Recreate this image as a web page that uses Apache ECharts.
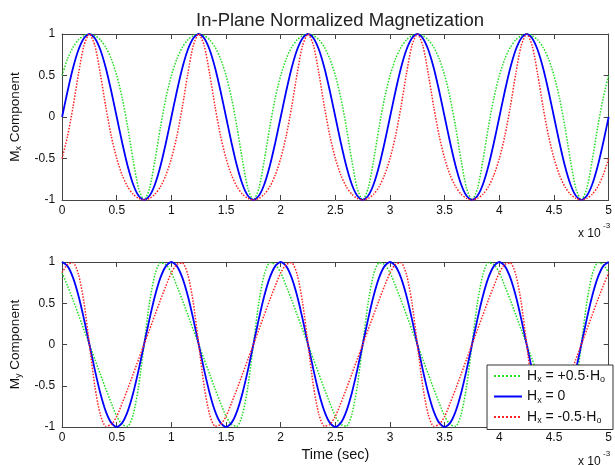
<!DOCTYPE html>
<html lang="en">
<head>
<meta charset="UTF-8">
<title>In-Plane Normalized Magnetization</title>
<style>
    html, body { margin: 0; padding: 0; background: #fff; }
    #container { width: 615px; height: 465px; }
</style>
</head>
<body>
<div id="container"></div>
<script src="https://cdn.jsdelivr.net/npm/echarts@6/dist/echarts.min.js"></script>
<script>
// time, in units of 1e-3 s
var timeMs = [
    0, 0.05, 0.1, 0.15, 0.2, 0.25, 0.3, 0.35, 0.4, 0.45, 0.5, 0.55, 0.6, 0.65, 0.7, 0.75, 0.8, 0.85, 0.9, 0.95,
    1, 1.05, 1.1, 1.15, 1.2, 1.25, 1.3, 1.35, 1.4, 1.45, 1.5, 1.55, 1.6, 1.65, 1.7, 1.75, 1.8, 1.85, 1.9, 1.95,
    2, 2.05, 2.1, 2.15, 2.2, 2.25, 2.3, 2.35, 2.4, 2.45, 2.5, 2.55, 2.6, 2.65, 2.7, 2.75, 2.8, 2.85, 2.9, 2.95,
    3, 3.05, 3.1, 3.15, 3.2, 3.25, 3.3, 3.35, 3.4, 3.45, 3.5, 3.55, 3.6, 3.65, 3.7, 3.75, 3.8, 3.85, 3.9, 3.95,
    4, 4.05, 4.1, 4.15, 4.2, 4.25, 4.3, 4.35, 4.4, 4.45, 4.5, 4.55, 4.6, 4.65, 4.7, 4.75, 4.8, 4.85, 4.9, 4.95,
    5
];

var seriesNames = ['Hx = +0.5·Ho', 'Hx = 0', 'Hx = -0.5·Ho'];

// Mx component
var mxPlus = [
    0.5, 0.7, 0.84, 0.93, 0.98, 1, 0.98, 0.93, 0.84, 0.7, 0.5, 0.23, -0.12, -0.52, -0.86, -1, -0.86, -0.52, -0.12, 0.23,
    0.5, 0.7, 0.84, 0.93, 0.98, 1, 0.98, 0.93, 0.84, 0.7, 0.5, 0.23, -0.12, -0.52, -0.86, -1, -0.86, -0.52, -0.12, 0.23,
    0.5, 0.7, 0.84, 0.93, 0.98, 1, 0.98, 0.93, 0.84, 0.7, 0.5, 0.23, -0.12, -0.52, -0.86, -1, -0.86, -0.52, -0.12, 0.23,
    0.5, 0.7, 0.84, 0.93, 0.98, 1, 0.98, 0.93, 0.84, 0.7, 0.5, 0.23, -0.12, -0.52, -0.86, -1, -0.86, -0.52, -0.12, 0.23,
    0.5, 0.7, 0.84, 0.93, 0.98, 1, 0.98, 0.93, 0.84, 0.7, 0.5, 0.23, -0.12, -0.52, -0.86, -1, -0.86, -0.52, -0.12, 0.23,
    0.5
];
var mxZero = [
    0, 0.31, 0.59, 0.81, 0.95, 1, 0.95, 0.81, 0.59, 0.31, 0, -0.31, -0.59, -0.81, -0.95, -1, -0.95, -0.81, -0.59, -0.31,
    0, 0.31, 0.59, 0.81, 0.95, 1, 0.95, 0.81, 0.59, 0.31, 0, -0.31, -0.59, -0.81, -0.95, -1, -0.95, -0.81, -0.59, -0.31,
    0, 0.31, 0.59, 0.81, 0.95, 1, 0.95, 0.81, 0.59, 0.31, 0, -0.31, -0.59, -0.81, -0.95, -1, -0.95, -0.81, -0.59, -0.31,
    0, 0.31, 0.59, 0.81, 0.95, 1, 0.95, 0.81, 0.59, 0.31, 0, -0.31, -0.59, -0.81, -0.95, -1, -0.95, -0.81, -0.59, -0.31,
    0, 0.31, 0.59, 0.81, 0.95, 1, 0.95, 0.81, 0.59, 0.31, 0, -0.31, -0.59, -0.81, -0.95, -1, -0.95, -0.81, -0.59, -0.31,
    0
];
var mxMinus = [
    -0.5, -0.23, 0.12, 0.52, 0.86, 1, 0.86, 0.52, 0.12, -0.23, -0.5, -0.7, -0.84, -0.93, -0.98, -1, -0.98, -0.93, -0.84, -0.7,
    -0.5, -0.23, 0.12, 0.52, 0.86, 1, 0.86, 0.52, 0.12, -0.23, -0.5, -0.7, -0.84, -0.93, -0.98, -1, -0.98, -0.93, -0.84, -0.7,
    -0.5, -0.23, 0.12, 0.52, 0.86, 1, 0.86, 0.52, 0.12, -0.23, -0.5, -0.7, -0.84, -0.93, -0.98, -1, -0.98, -0.93, -0.84, -0.7,
    -0.5, -0.23, 0.12, 0.52, 0.86, 1, 0.86, 0.52, 0.12, -0.23, -0.5, -0.7, -0.84, -0.93, -0.98, -1, -0.98, -0.93, -0.84, -0.7,
    -0.5, -0.23, 0.12, 0.52, 0.86, 1, 0.86, 0.52, 0.12, -0.23, -0.5, -0.7, -0.84, -0.93, -0.98, -1, -0.98, -0.93, -0.84, -0.7,
    -0.5
];

// My component
var myPlus = [
    0.87, 0.71, 0.54, 0.36, 0.18, 0, -0.18, -0.36, -0.54, -0.71, -0.87, -0.97, -0.99, -0.85, -0.51, 0, 0.51, 0.85, 0.99, 0.97,
    0.87, 0.71, 0.54, 0.36, 0.18, 0, -0.18, -0.36, -0.54, -0.71, -0.87, -0.97, -0.99, -0.85, -0.51, 0, 0.51, 0.85, 0.99, 0.97,
    0.87, 0.71, 0.54, 0.36, 0.18, 0, -0.18, -0.36, -0.54, -0.71, -0.87, -0.97, -0.99, -0.85, -0.51, 0, 0.51, 0.85, 0.99, 0.97,
    0.87, 0.71, 0.54, 0.36, 0.18, 0, -0.18, -0.36, -0.54, -0.71, -0.87, -0.97, -0.99, -0.85, -0.51, 0, 0.51, 0.85, 0.99, 0.97,
    0.87, 0.71, 0.54, 0.36, 0.18, 0, -0.18, -0.36, -0.54, -0.71, -0.87, -0.97, -0.99, -0.85, -0.51, 0, 0.51, 0.85, 0.99, 0.97,
    0.87
];
var myZero = [
    1, 0.95, 0.81, 0.59, 0.31, 0, -0.31, -0.59, -0.81, -0.95, -1, -0.95, -0.81, -0.59, -0.31, 0, 0.31, 0.59, 0.81, 0.95,
    1, 0.95, 0.81, 0.59, 0.31, 0, -0.31, -0.59, -0.81, -0.95, -1, -0.95, -0.81, -0.59, -0.31, 0, 0.31, 0.59, 0.81, 0.95,
    1, 0.95, 0.81, 0.59, 0.31, 0, -0.31, -0.59, -0.81, -0.95, -1, -0.95, -0.81, -0.59, -0.31, 0, 0.31, 0.59, 0.81, 0.95,
    1, 0.95, 0.81, 0.59, 0.31, 0, -0.31, -0.59, -0.81, -0.95, -1, -0.95, -0.81, -0.59, -0.31, 0, 0.31, 0.59, 0.81, 0.95,
    1, 0.95, 0.81, 0.59, 0.31, 0, -0.31, -0.59, -0.81, -0.95, -1, -0.95, -0.81, -0.59, -0.31, 0, 0.31, 0.59, 0.81, 0.95,
    1
];
var myMinus = [
    0.87, 0.97, 0.99, 0.85, 0.51, 0, -0.51, -0.85, -0.99, -0.97, -0.87, -0.71, -0.54, -0.36, -0.18, 0, 0.18, 0.36, 0.54, 0.71,
    0.87, 0.97, 0.99, 0.85, 0.51, 0, -0.51, -0.85, -0.99, -0.97, -0.87, -0.71, -0.54, -0.36, -0.18, 0, 0.18, 0.36, 0.54, 0.71,
    0.87, 0.97, 0.99, 0.85, 0.51, 0, -0.51, -0.85, -0.99, -0.97, -0.87, -0.71, -0.54, -0.36, -0.18, 0, 0.18, 0.36, 0.54, 0.71,
    0.87, 0.97, 0.99, 0.85, 0.51, 0, -0.51, -0.85, -0.99, -0.97, -0.87, -0.71, -0.54, -0.36, -0.18, 0, 0.18, 0.36, 0.54, 0.71,
    0.87, 0.97, 0.99, 0.85, 0.51, 0, -0.51, -0.85, -0.99, -0.97, -0.87, -0.71, -0.54, -0.36, -0.18, 0, 0.18, 0.36, 0.54, 0.71,
    0.87
];

var font = 'Liberation Sans, Arial, sans-serif';
var boxColor = '#444';
var colors = ['#22dd22', '#0000ff', '#ff2222'];
var lineTypes = ['dotted', 'solid', 'dotted'];
var subStyle = { fontSize: 9, fontFamily: font, color: '#111', padding: [0, 0, -8, 0] };

function pairs(values) {
    return timeMs.map(function (t, i) { return [t, values[i]]; });
}

function xAxisFor(grid, pos, name) {
    return {
        gridIndex: grid, type: 'value', position: pos,
        min: 0, max: 5, interval: 0.5,
        name: name || '', nameLocation: 'middle', nameGap: 20,
        nameTextStyle: { color: '#111', fontSize: 14.5, fontFamily: font },
        axisLine: { show: true, onZero: false, lineStyle: { color: boxColor } },
        axisTick: { show: true, inside: true, length: 5, lineStyle: { color: boxColor } },
        axisLabel: { show: pos === 'bottom', color: '#111', fontSize: 12, fontFamily: font, margin: 5 },
        splitLine: { show: false }
    };
}

function yAxisFor(grid, pos, name) {
    return {
        gridIndex: grid, type: 'value', position: pos,
        min: -1, max: 1, interval: 0.5,
        name: name || '', nameLocation: 'middle', nameGap: 34,
        nameTextStyle: { color: '#111', fontSize: 13.5, fontFamily: font, rich: { sub: subStyle } },
        axisLine: { show: true, onZero: false, lineStyle: { color: boxColor } },
        axisTick: { show: true, inside: true, length: 5, lineStyle: { color: boxColor } },
        axisLabel: { show: pos === 'left', color: '#111', fontSize: 12, fontFamily: font, margin: 7 },
        splitLine: { show: false }
    };
}

var mxSets = [mxPlus, mxZero, mxMinus];
var mySets = [myPlus, myZero, myMinus];
var series = [];
[mxSets, mySets].forEach(function (sets, g) {
    sets.forEach(function (vals, i) {
        series.push({
            name: seriesNames[i], type: 'line',
            xAxisIndex: g * 2, yAxisIndex: g * 2,
            data: pairs(vals), symbol: 'none', smooth: 0.25,
            lineStyle: { color: colors[i], width: i === 1 ? 1.8 : 1.5, type: lineTypes[i] },
            itemStyle: { color: colors[i] }
        });
    });
});

var legendText = {
    'Hx = +0.5·Ho': 'H{sub|x} = +0.5·H{sub|o}',
    'Hx = 0': 'H{sub|x} = 0',
    'Hx = -0.5·Ho': 'H{sub|x} = -0.5·H{sub|o}'
};

var chart = echarts.init(document.getElementById('container'), null, { renderer: 'canvas' });
var option = {
    animation: false,
    backgroundColor: '#fff',
    title: {
        text: 'In-Plane Normalized Magnetization',
        left: 335, textAlign: 'center', top: 6,
        textStyle: { color: '#222', fontSize: 18.5, fontWeight: 'normal', fontFamily: font }
    },
    grid: [
        { left: 60, right: 2, top: 34, height: 166 },
        { left: 60, right: 2, top: 262, height: 165 }
    ],
    xAxis: [
        xAxisFor(0, 'bottom'), xAxisFor(0, 'top'),
        xAxisFor(1, 'bottom', 'Time (sec)'), xAxisFor(1, 'top')
    ],
    yAxis: [
        yAxisFor(0, 'left', 'M{sub|x} Component'), yAxisFor(0, 'right'),
        yAxisFor(1, 'left', 'M{sub|y} Component'), yAxisFor(1, 'right')
    ],
    legend: {
        data: seriesNames,
        orient: 'vertical', right: 2, top: 365,
        backgroundColor: '#fff', borderColor: '#333', borderWidth: 1,
        padding: [4, 8, 4, 6], itemGap: 5, itemWidth: 28, itemHeight: 12,
        itemStyle: { opacity: 0 },
        formatter: function (name) { return legendText[name]; },
        textStyle: { color: '#111', fontSize: 14, fontFamily: font, rich: { sub: subStyle } }
    },
    graphic: [
        { type: 'text', left: 578, top: 228, style: { text: 'x 10', fontSize: 12, fontFamily: font, fill: '#111' } },
        { type: 'text', left: 603, top: 222, style: { text: '-3', fontSize: 8, fontFamily: font, fill: '#111' } },
        { type: 'text', left: 578, top: 456, style: { text: 'x 10', fontSize: 12, fontFamily: font, fill: '#111' } },
        { type: 'text', left: 603, top: 450, style: { text: '-3', fontSize: 8, fontFamily: font, fill: '#111' } }
    ],
    series: series
};
chart.setOption(option);
</script>
</body>
</html>
